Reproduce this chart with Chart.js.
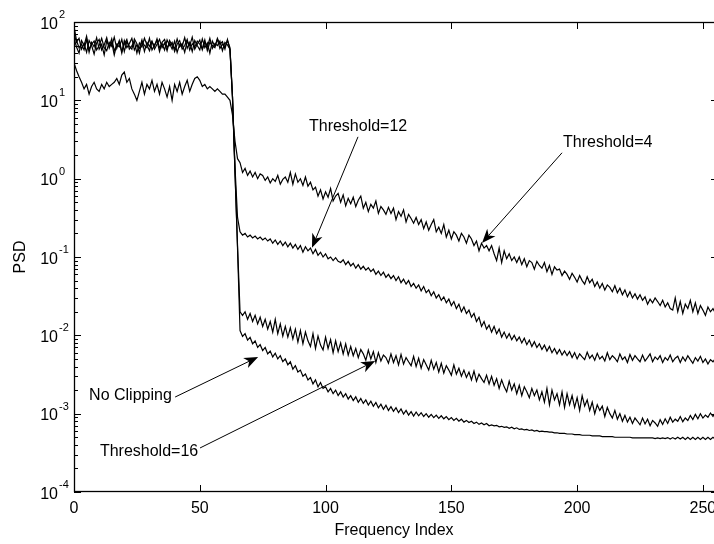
<!DOCTYPE html>
<html lang="en">
<head>
<meta charset="UTF-8" />
<title>PSD vs Frequency Index</title>
<script src="https://cdn.jsdelivr.net/npm/chart.js"></script>
<style>
  html, body { margin: 0; padding: 0; background: #fff; overflow: hidden; }
  #wrap { width: 720px; height: 544px; }
</style>
</head>
<body>
<div id="wrap"><canvas id="psdChart" width="720" height="544"></canvas></div>
<script>
// frequency bins 0..255
const freqIndex = Array.from({ length: 256 }, (_, i) => i);

const psdNoClip = [
  88, 58, 47, 52, 44, 60, 41, 55, 48, 63,
  45, 52, 38, 57, 49, 61, 43, 50, 56, 40,
  58, 47, 53, 62, 44, 51, 46, 59, 42, 55,
  49, 57, 45, 52, 60, 47, 54, 43, 58, 50,
  46, 61, 48, 53, 41, 57, 50, 64, 45, 52,
  59, 44, 55, 48, 62, 46, 53, 50, 57, 43,
  55, 51, 45, 11, 1.2, 0.13,
  0.0115, 0.0097, 0.0105, 0.0087, 0.0094, 0.0078, 0.0085, 0.007, 0.0076, 0.0064,
  0.007, 0.0058, 0.0063, 0.0053, 0.0059, 0.005, 0.0055, 0.0046, 0.005, 0.0042,
  0.0046, 0.0037, 0.0041, 0.0034, 0.0036, 0.003, 0.0032, 0.0027, 0.0029, 0.0024,
  0.0027, 0.0022, 0.0025, 0.0021, 0.0022, 0.0019, 0.0021, 0.0018, 0.002, 0.0017,
  0.0019, 0.00163, 0.0018, 0.00154, 0.0017, 0.00147, 0.00164, 0.0014, 0.00156, 0.00135,
  0.0015, 0.00129, 0.00144, 0.00124, 0.00139, 0.00119, 0.00132, 0.00114, 0.00128, 0.0011,
  0.00123, 0.00107, 0.00119, 0.00103, 0.00115, 0.00099, 0.0011, 0.00096, 0.00106, 0.00093,
  0.00105, 0.00094, 0.00103, 0.00092, 0.001, 0.0009, 0.00098, 0.00089, 0.00096, 0.00087,
  0.00094, 0.00086, 0.00092, 0.00084, 0.00089, 0.00082, 0.00087, 0.0008, 0.00085, 0.00078,
  0.00082, 0.00077, 0.0008, 0.00075, 0.00078, 0.00073, 0.00076, 0.00072, 0.00075, 0.0007,
  0.00072, 0.0007, 0.00071, 0.00068, 0.00069, 0.00067, 0.00068, 0.00065, 0.00067, 0.00064,
  0.00066, 0.00063, 0.00064, 0.00062, 0.00063, 0.00061, 0.00062, 0.0006, 0.00061, 0.00059,
  0.0006, 0.00059, 0.00059, 0.00058, 0.00058, 0.00057, 0.00057, 0.00056, 0.00056, 0.00056,
  0.00055, 0.00055, 0.00055, 0.00054, 0.00054, 0.00054, 0.00053, 0.00053, 0.00053, 0.00053,
  0.00052, 0.00052, 0.00052, 0.00052, 0.00051, 0.00051, 0.00051, 0.00051, 0.00051, 0.0005,
  0.0005, 0.0005, 0.0005, 0.0005, 0.0005, 0.0005, 0.00049, 0.00049, 0.00049, 0.00049,
  0.00049, 0.00049, 0.00049, 0.00049, 0.00049, 0.00048, 0.00049, 0.00048, 0.00049, 0.00048,
  0.000495, 0.000475, 0.000495, 0.000475, 0.0005, 0.000475, 0.0005, 0.00047, 0.0005, 0.00047,
  0.0005, 0.00047, 0.0005, 0.00047, 0.0005, 0.00047, 0.0005, 0.00047, 0.0005, 0.00047
];

const psdTh16 = [
  72, 55, 62, 45, 53, 41, 58, 50, 39, 54,
  60, 44, 51, 63, 46, 55, 38, 52, 48, 60,
  42, 56, 49, 45, 61, 53, 40, 57, 50, 47,
  62, 44, 51, 58, 42, 55, 60, 47, 53, 45,
  57, 41, 52, 49, 63, 46, 55, 42, 58, 50,
  44, 61, 47, 54, 40, 57, 49, 60, 46, 52,
  48, 58, 47, 11, 1.2, 0.14,
  0.02, 0.018, 0.02, 0.016, 0.019, 0.015, 0.018, 0.014, 0.017, 0.013,
  0.016, 0.012, 0.015, 0.011, 0.016, 0.0105, 0.014, 0.0098, 0.013, 0.0095,
  0.0125, 0.009, 0.012, 0.0082, 0.0115, 0.0078, 0.011, 0.0085, 0.0072, 0.0105,
  0.0068, 0.0098, 0.0075, 0.0065, 0.0095, 0.0068, 0.0088, 0.006, 0.0085, 0.0062,
  0.008, 0.0058, 0.0078, 0.0056, 0.0072, 0.0055, 0.0068, 0.0052, 0.0066, 0.0058,
  0.0048, 0.0065, 0.005, 0.0062, 0.0045, 0.006, 0.0047, 0.0056, 0.0052, 0.0044,
  0.0058, 0.0045, 0.0055, 0.0042, 0.0057, 0.0043, 0.0052, 0.0046, 0.0041, 0.0054,
  0.004, 0.0051, 0.0038, 0.0049, 0.0042, 0.0036, 0.0048, 0.0037, 0.0045, 0.0034,
  0.0044, 0.0033, 0.0041, 0.0036, 0.0031, 0.0042, 0.0032, 0.0038, 0.003, 0.0036,
  0.0029, 0.0034, 0.0027, 0.0035, 0.0026, 0.0032, 0.0028, 0.0025, 0.0031, 0.0024,
  0.003, 0.0023, 0.0028, 0.0021, 0.0027, 0.0022, 0.0019, 0.0026, 0.002, 0.0024,
  0.0018, 0.0023, 0.0017, 0.0022, 0.0019, 0.0016, 0.0021, 0.0017, 0.002, 0.0015,
  0.0019, 0.0014, 0.0021, 0.0013, 0.002, 0.0015, 0.0018, 0.0013, 0.0019, 0.0012,
  0.0018, 0.0013, 0.0017, 0.0012, 0.0016, 0.0011, 0.0017, 0.00125, 0.0015, 0.0011,
  0.0014, 0.001, 0.0013, 0.0011, 0.00125, 0.00092, 0.0012, 0.001, 0.00088, 0.0011,
  0.00085, 0.001, 0.0008, 0.00095, 0.00078, 0.0009, 0.00075, 0.00088, 0.0008, 0.00072,
  0.00088, 0.00074, 0.00085, 0.0007, 0.00082, 0.00076, 0.00069, 0.00084, 0.00073, 0.00086,
  0.00075, 0.0009, 0.00078, 0.00085, 0.0008, 0.00092, 0.00079, 0.00088, 0.00082, 0.00095,
  0.00084, 0.00098, 0.00086, 0.001, 0.00088, 0.00096, 0.0009, 0.00102, 0.00092, 0.00105
];

const psdTh12 = [
  62, 48, 40, 58, 50, 66, 45, 52, 57, 44,
  50, 62, 47, 43, 55, 49, 64, 46, 58, 42,
  52, 60, 45, 50, 56, 40, 54, 48, 62, 51,
  43, 56, 49, 61, 47, 53, 44, 59, 50, 55,
  42, 52, 58, 45, 50, 60, 44, 53, 48, 57,
  52, 46, 59, 43, 55, 50, 47, 62, 52, 56,
  45, 60, 44, 11, 1.4, 0.32,
  0.21, 0.19, 0.2, 0.18, 0.19, 0.175, 0.185, 0.17, 0.18, 0.165,
  0.175, 0.16, 0.17, 0.15, 0.165, 0.145, 0.16, 0.14, 0.155, 0.135,
  0.15, 0.13, 0.145, 0.125, 0.14, 0.115, 0.135, 0.12, 0.13, 0.11,
  0.125, 0.105, 0.115, 0.1, 0.11, 0.095, 0.1, 0.09, 0.098, 0.088,
  0.085, 0.092, 0.08, 0.088, 0.077, 0.083, 0.072, 0.08, 0.07, 0.076,
  0.068, 0.073, 0.065, 0.07, 0.06, 0.066, 0.058, 0.064, 0.055, 0.06,
  0.053, 0.058, 0.05, 0.056, 0.047, 0.052, 0.045, 0.05, 0.042, 0.046,
  0.04, 0.044, 0.037, 0.042, 0.035, 0.038, 0.032, 0.036, 0.03, 0.033,
  0.028, 0.031, 0.026, 0.029, 0.024, 0.027, 0.022, 0.025, 0.02, 0.023,
  0.019, 0.021, 0.017, 0.019, 0.015, 0.017, 0.013, 0.015, 0.012, 0.0135,
  0.011, 0.013, 0.0105, 0.012, 0.0095, 0.011, 0.0092, 0.0105, 0.0088, 0.01,
  0.0085, 0.0095, 0.008, 0.0092, 0.0076, 0.0087, 0.0072, 0.0083, 0.007, 0.0078,
  0.0066, 0.0075, 0.0063, 0.0072, 0.006, 0.0068, 0.0058, 0.0066, 0.0056, 0.0063,
  0.0055, 0.0062, 0.0052, 0.006, 0.005, 0.0058, 0.0053, 0.0049, 0.0061, 0.0051,
  0.0056, 0.0048, 0.0059, 0.005, 0.0054, 0.0047, 0.006, 0.0049, 0.0055, 0.0051,
  0.0046, 0.0058, 0.0049, 0.0053, 0.0045, 0.0057, 0.0048, 0.0055, 0.005, 0.0046,
  0.0056, 0.0047, 0.0052, 0.0058, 0.0046, 0.0053, 0.0049, 0.0055, 0.0045, 0.0052,
  0.0048, 0.0056, 0.0046, 0.0051, 0.0054, 0.0045, 0.0053, 0.0047, 0.0055, 0.0049,
  0.0044, 0.0052, 0.0047, 0.0054, 0.0045, 0.005, 0.0043, 0.0049, 0.0046, 0.0051
];

const psdTh4 = [
  30, 24, 20, 17, 14, 16, 12, 15, 17, 14,
  13, 16, 14, 17, 15, 16, 17, 19, 16, 21,
  23, 17, 19, 14, 12, 10, 13, 17, 12, 16,
  14, 18, 13, 16, 12, 17, 14, 11, 15, 10,
  16, 13, 17, 12, 15, 18, 13, 16, 19, 20,
  18, 15, 16, 14, 15, 14, 13, 14, 13, 12,
  12, 11, 10, 6.5, 3.0, 1.8,
  1.6, 1.2, 1.35, 1.1, 1.25, 1.05, 1.2, 1.0, 1.15, 1.1,
  0.95, 1.05, 0.88, 1.0, 0.92, 1.1, 0.85, 0.98, 1.05, 0.9,
  1.2, 0.85, 1.15, 0.9, 1.0, 0.82, 1.05, 0.8, 0.9, 0.72,
  0.78, 0.6, 0.72, 0.55, 0.68, 0.58, 0.75, 0.52, 0.6, 0.65,
  0.5, 0.62, 0.45, 0.56, 0.48, 0.58, 0.44, 0.53, 0.6, 0.42,
  0.5, 0.38, 0.47, 0.42, 0.52, 0.36, 0.44, 0.4, 0.35, 0.43,
  0.36, 0.42, 0.3, 0.38, 0.33, 0.4, 0.28, 0.35, 0.31, 0.27,
  0.32, 0.26, 0.3, 0.23, 0.28, 0.22, 0.26, 0.3, 0.21, 0.24,
  0.2, 0.26, 0.18, 0.22, 0.17, 0.21, 0.19, 0.16, 0.2, 0.18,
  0.15, 0.19, 0.17, 0.14, 0.16, 0.12, 0.15, 0.13, 0.14, 0.12,
  0.14, 0.11, 0.09, 0.13, 0.085, 0.12, 0.095, 0.11, 0.09, 0.1,
  0.085, 0.1, 0.08, 0.095, 0.075, 0.09, 0.085, 0.07, 0.088, 0.078,
  0.072, 0.085, 0.065, 0.078, 0.06, 0.075, 0.068, 0.07, 0.058, 0.066,
  0.06, 0.052, 0.062, 0.055, 0.048, 0.058, 0.05, 0.045, 0.056, 0.047,
  0.052, 0.042, 0.048, 0.04, 0.046, 0.038, 0.044, 0.041, 0.036, 0.043,
  0.035, 0.04, 0.033, 0.038, 0.031, 0.036, 0.03, 0.034, 0.029, 0.033,
  0.028, 0.031, 0.025, 0.029, 0.026, 0.03, 0.027, 0.024, 0.028, 0.023,
  0.026, 0.022, 0.021, 0.03, 0.02, 0.027, 0.019, 0.025, 0.022, 0.028,
  0.02, 0.026, 0.019, 0.024, 0.021, 0.018, 0.023, 0.02, 0.022, 0.019
];

const xTicks = [0, 50, 100, 150, 200, 250];
const yDecades = [-4, -3, -2, -1, 0, 1, 2];

// annotation text + arrows, in data units
const notes = [
  { text: 'Threshold=12', at: [93.4, 4.6],     from: [112.9, 3.42],    to: [94.6, 0.131] },
  { text: 'Threshold=4',  at: [194.4, 2.86],   from: [194.0, 2.14],    to: [162.2, 0.151] },
  { text: 'No Clipping',  at: [6.0, 0.00168],  from: [40.2, 0.00163],  to: [73.2, 0.0053] },
  { text: 'Threshold=16', at: [10.3, 0.000324], from: [50.1, 0.000365], to: [119.7, 0.0047] }
];

const FONT = '"Liberation Sans", Arial, sans-serif';

function drawArrow(ctx, x1, y1, x2, y2) {
  const ang = Math.atan2(y2 - y1, x2 - x1);
  const c = Math.cos(ang), s = Math.sin(ang);
  const hl = 14, hw = 5.5, notch = 4;
  ctx.beginPath();
  ctx.moveTo(x1, y1);
  ctx.lineTo(x2 - c * (hl - notch), y2 - s * (hl - notch));
  ctx.stroke();
  const bx = x2 - c * hl, by = y2 - s * hl;
  ctx.beginPath();
  ctx.moveTo(x2, y2);
  ctx.lineTo(bx - s * hw, by + c * hw);
  ctx.lineTo(x2 - c * (hl - notch), y2 - s * (hl - notch));
  ctx.lineTo(bx + s * hw, by - c * hw);
  ctx.closePath();
  ctx.fill();
}

const matlabAxes = {
  id: 'matlabAxes',
  afterDraw(chart) {
    const { ctx, chartArea: a } = chart;
    const x = chart.scales.x, y = chart.scales.y;
    ctx.save();
    ctx.strokeStyle = '#000';
    ctx.fillStyle = '#000';
    ctx.lineWidth = 1.3;

    // axes box
    ctx.strokeRect(a.left + 0.5, a.top + 0.5, a.right - a.left - 1, a.bottom - a.top - 1);

    // inward tick marks
    ctx.lineWidth = 1;
    ctx.beginPath();
    xTicks.forEach(v => {
      const px = Math.round(x.getPixelForValue(v)) + 0.5;
      ctx.moveTo(px, a.bottom); ctx.lineTo(px, a.bottom - 7);
      ctx.moveTo(px, a.top); ctx.lineTo(px, a.top + 7);
    });
    yDecades.forEach(k => {
      for (let m = 1; m <= 9; m++) {
        if (k === yDecades[yDecades.length - 1] && m > 1) break;
        const py = Math.round(y.getPixelForValue(m * Math.pow(10, k))) + 0.5;
        const len = m === 1 ? 7 : 4;
        ctx.moveTo(a.left, py); ctx.lineTo(a.left + len, py);
        ctx.moveTo(a.right, py); ctx.lineTo(a.right - len, py);
      }
    });
    ctx.stroke();

    // x tick labels
    ctx.font = '16px ' + FONT;
    ctx.textAlign = 'center';
    ctx.textBaseline = 'alphabetic';
    xTicks.forEach(v => ctx.fillText(String(v), x.getPixelForValue(v), a.bottom + 21));
    ctx.fillText('Frequency Index', (a.left + a.right) / 2 - 2, a.bottom + 43);

    // y tick labels as 10^k
    yDecades.forEach(k => {
      const py = y.getPixelForValue(Math.pow(10, k));
      ctx.font = '16px ' + FONT;
      ctx.textAlign = 'right';
      ctx.fillText('10', a.left - 16, py + 6.5);
      ctx.font = '11px ' + FONT;
      ctx.textAlign = 'left';
      ctx.fillText(String(k), a.left - 15, py - 4);
    });

    // y axis title
    ctx.save();
    ctx.translate(25, (a.top + a.bottom) / 2);
    ctx.rotate(-Math.PI / 2);
    ctx.font = '16px ' + FONT;
    ctx.textAlign = 'center';
    ctx.fillText('PSD', 0, 0);
    ctx.restore();

    // annotations
    ctx.font = '16px ' + FONT;
    ctx.textAlign = 'left';
    ctx.textBaseline = 'middle';
    notes.forEach(n => {
      ctx.fillText(n.text, x.getPixelForValue(n.at[0]), y.getPixelForValue(n.at[1]));
      drawArrow(ctx,
        x.getPixelForValue(n.from[0]), y.getPixelForValue(n.from[1]),
        x.getPixelForValue(n.to[0]), y.getPixelForValue(n.to[1]));
    });
    ctx.restore();
  }
};

const seriesList = [psdNoClip, psdTh16, psdTh12, psdTh4];

new Chart(document.getElementById('psdChart').getContext('2d'), {
  type: 'line',
  data: {
    datasets: seriesList.map(vals => ({
      data: freqIndex.map((f, i) => ({ x: f, y: vals[i] })),
      borderColor: '#000',
      borderWidth: 1.2,
      pointRadius: 0,
      fill: false,
      tension: 0
    }))
  },
  options: {
    responsive: false,
    animation: false,
    events: [],
    layout: { padding: { left: 74, top: 22, right: 2, bottom: 52 } },
    scales: {
      x: { type: 'linear', min: 0, max: 256, display: false },
      y: { type: 'logarithmic', min: 1e-4, max: 100, display: false }
    },
    plugins: {
      legend: { display: false },
      tooltip: { enabled: false }
    }
  },
  plugins: [matlabAxes]
});
</script>
</body>
</html>
